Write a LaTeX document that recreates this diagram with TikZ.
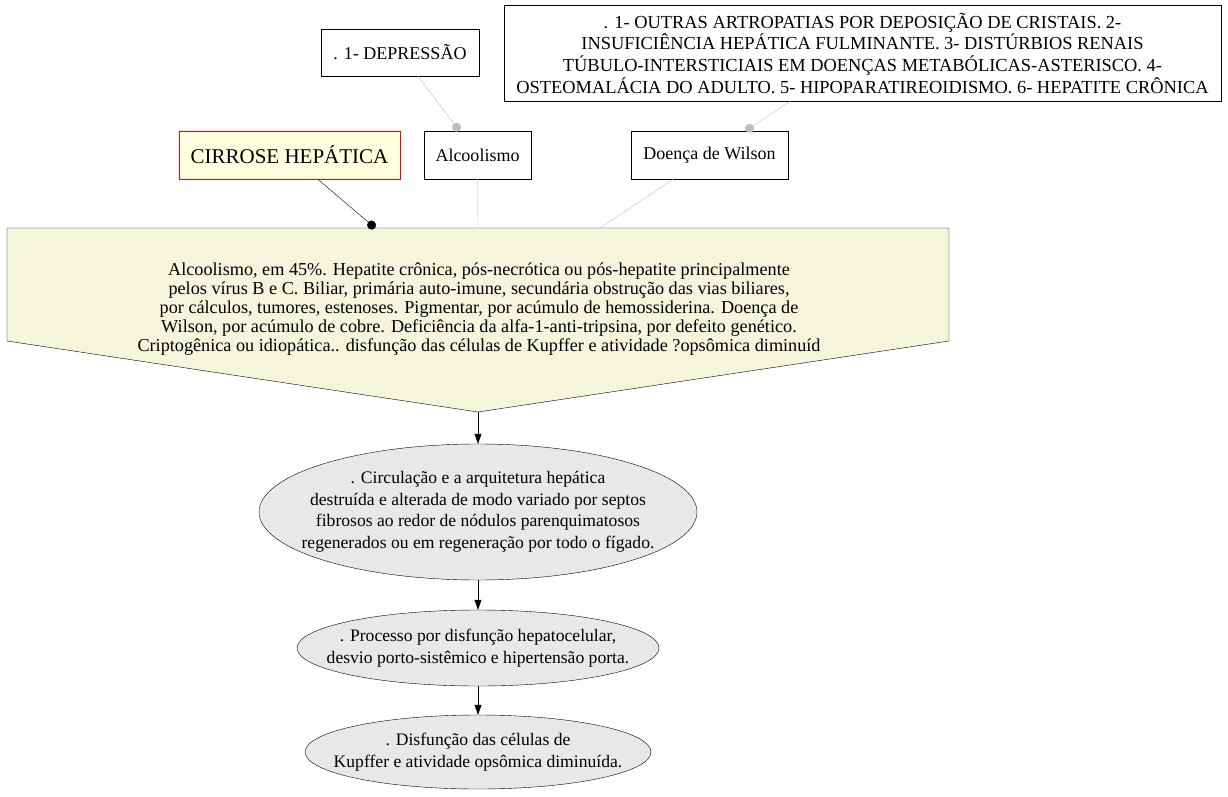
\documentclass[tikz,border=0pt]{standalone}
\usepackage{fontspec}
\setmainfont{Liberation Serif}
\usetikzlibrary{shapes,arrows.meta}

\definecolor{rootyellow}{HTML}{FFFFE0}
\definecolor{causebeige}{HTML}{F5F5DC}
\definecolor{stepgray}{HTML}{E8E8E8}
\definecolor{linkgray}{HTML}{BEBEBE}

\tikzset{
  notebox/.style={draw, rectangle, fill=white, inner sep=0pt, align=center,
    font=\fontsize{18}{21.7}\selectfont},
  rootbox/.style={notebox, draw=red, fill=rootyellow, font=\fontsize{21}{25}\selectfont},
  oval/.style={draw, ellipse, fill=stepgray, inner sep=0pt},
  ovaltext/.style={align=center, inner sep=0pt, font=\fontsize{17.6}{21.5}\selectfont},
  flow/.style={-{Triangle[length=10pt,width=7pt]}},
  blackdot/.style={-{Circle[length=9pt]}},
  graydot/.style={linkgray, -{Circle[length=9pt]}},
  grayline/.style={linkgray}
}

\begin{document}
\begin{tikzpicture}[x=1pt,y=-1pt]
  \useasboundingbox (0,0) rectangle (1228,797);

  %top notes
  \node[notebox, minimum width=158, minimum height=47] (depressao) at (400,52.5) {. 1- DEPRESSÃO};
  \node[notebox, minimum width=717, minimum height=96, font=\fontsize{18.4}{21.7}\selectfont] (outras) at (862.5,53)
    {. 1- OUTRAS ARTROPATIAS POR DEPOSIÇÃO DE CRISTAIS. 2-\\
     INSUFICIÊNCIA HEPÁTICA FULMINANTE. 3- DISTÚRBIOS RENAIS\\
     TÚBULO-INTERSTICIAIS EM DOENÇAS METABÓLICAS-ASTERISCO. 4-\\
     OSTEOMALÁCIA DO ADULTO. 5- HIPOPARATIREOIDISMO. 6- HEPATITE CRÔNICA};

  %second row
  \node[rootbox, minimum width=221, minimum height=48] (cirrose) at (289.5,155) {CIRROSE HEPÁTICA};
  \node[notebox, minimum width=107, minimum height=48] (alcool) at (477.5,155) {Alcoolismo};
  \node[notebox, minimum width=157, minimum height=48] (wilson) at (709.5,155) {Doença de Wilson};

  %causes
  \draw[fill=causebeige] (7,228) -- (949,228) -- (949,341) -- (478,412) -- (7,341) -- cycle;
  \coordinate (capA) at (375,228);
  \coordinate (capB) at (478,228);
  \coordinate (capC) at (600,228);
  \coordinate (tip) at (478,412);
  \node[ovaltext, font=\fontsize{18.2}{19}\selectfont] (causas) at (479,309)
    {Alcoolismo, em 45\%. Hepatite crônica, pós-necrótica ou pós-hepatite principalmente\\
     pelos vírus B e C. Biliar, primária auto-imune, secundária obstrução das vias biliares,\\
     por cálculos, tumores, estenoses. Pigmentar, por acúmulo de hemossiderina. Doença de\\
     Wilson, por acúmulo de cobre. Deficiência da alfa-1-anti-tripsina, por defeito genético.\\
     Criptogênica ou idiopática.. disfunção das células de Kupffer e atividade ?opsômica diminuíd};

  %steps
  \node[oval, minimum width=438, minimum height=136] (circ) at (478,512) {};
  \node[ovaltext] at (circ) {. Circulação e a arquitetura hepática\\
     destruída e alterada de modo variado por septos\\
     fibrosos ao redor de nódulos parenquimatosos\\
     regenerados ou em regeneração por todo o fígado.};

  \node[oval, minimum width=362, minimum height=76] (proc) at (478,648) {};
  \node[ovaltext] at (proc) {. Processo por disfunção hepatocelular,\\
     desvio porto-sistêmico e hipertensão porta.};

  \node[oval, minimum width=346, minimum height=74] (kupffer) at (478,752) {};
  \node[ovaltext] at (kupffer) {. Disfunção das células de\\
     Kupffer e atividade opsômica diminuída.};

  %connectors
  \draw[graydot] (depressao) -- (alcool);
  \draw[graydot] (outras) -- (wilson);
  \draw[blackdot] (cirrose) -- (capA);
  \draw[grayline] (alcool) -- (capB);
  \draw[grayline] (wilson) -- (capC);
  \draw[flow] (tip) -- (circ);
  \draw[flow] (circ) -- (proc);
  \draw[flow] (proc) -- (kupffer);

\end{tikzpicture}
\end{document}
